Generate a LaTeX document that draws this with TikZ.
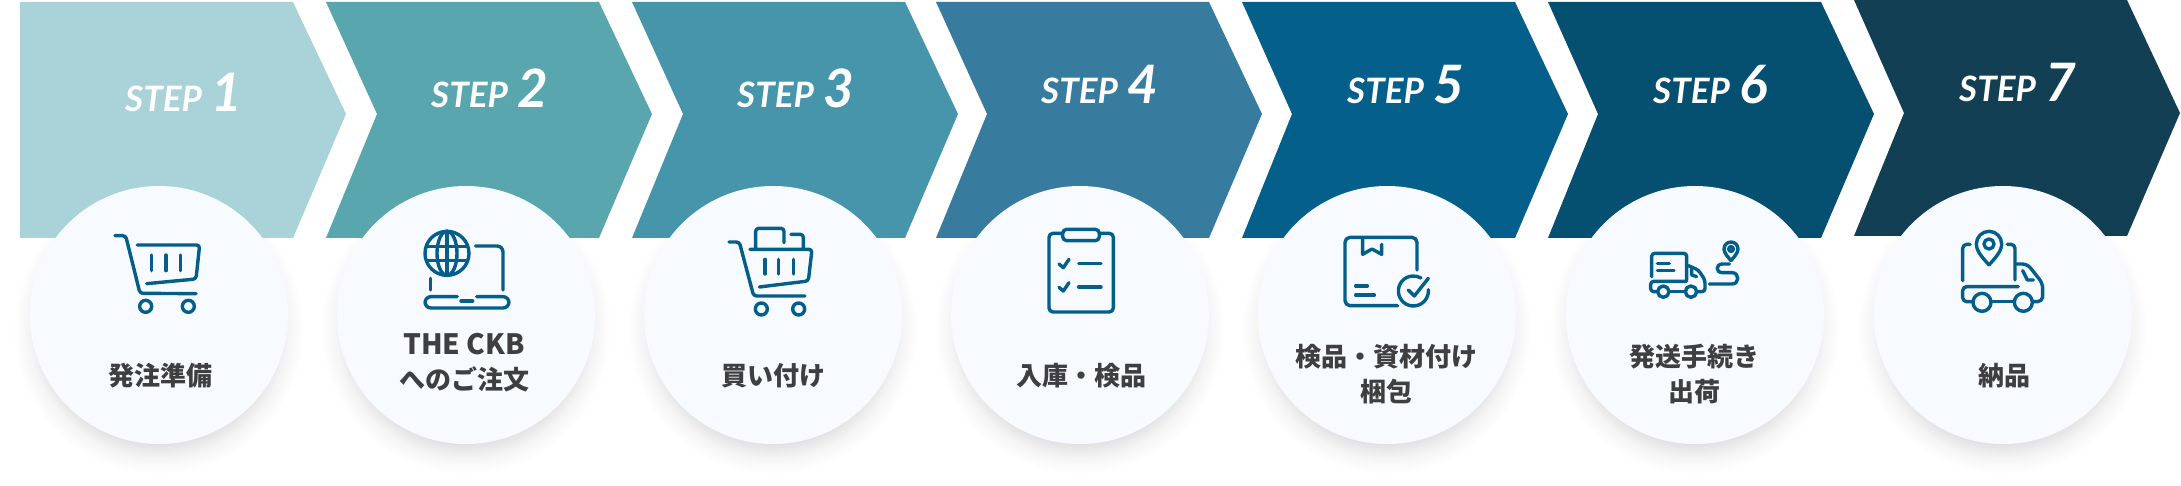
\documentclass[tikz,border=0pt]{standalone}
\usepackage{fontspec}
\setmainfont{Lato}
\newfontfamily\cjk{Noto Sans CJK JP}
\definecolor{iconblue}{HTML}{035F8A}
\definecolor{labelgray}{HTML}{3F3F3F}
\definecolor{circfill}{HTML}{F7FBFF}
\definecolor{cha}{HTML}{A9D3D8}
\definecolor{chb}{HTML}{59A6AE}
\definecolor{chc}{HTML}{4795AA}
\definecolor{chd}{HTML}{377B9E}
\definecolor{che}{HTML}{045F8A}
\definecolor{chf}{HTML}{054F71}
\definecolor{chg}{HTML}{123F54}
\tikzset{
  stepbadge/.style={anchor=base west,inner sep=0pt,text=white,font=\bfseries\itshape},
  disc/.style={circle,fill=circfill,minimum size=258pt,inner sep=0pt},
  lab/.style={inner sep=0pt,text=labelgray,align=center,font=\cjk\bfseries\fontsize{26pt}{35pt}\selectfont},
  icon/.style={draw=iconblue,line width=3.4pt,line cap=round,line join=round},
  iconscope/.style={x=0.3333pt,y=-0.3333pt,icon},
}
\newcommand{\stepword}[1]{{\fontsize{35pt}{35pt}\selectfont STEP}\hspace{10pt}{\fontsize{53pt}{53pt}\selectfont #1}}
\begin{document}
\begin{tikzpicture}[x=1pt,y=-1pt]
\useasboundingbox (0,0) rectangle (2181,486);
% shadows
\foreach \cx in {159,466,773,1080,1387,1695,2003}{
  \foreach \rr in {104,105.5,...,130}{
    \fill[black,opacity=0.007] (\cx,329) circle [radius=\rr];
  }
  \foreach \rr in {131.5,133,...,146}{
    \fill[black,opacity=0.003] (\cx,329) circle [radius=\rr];
  }
}
% chevrons
\fill[cha] (20,2)--(293,2)--(346,114)--(293,238)--(20,238)--cycle;
\fill[chb] (326,2)--(599,2)--(652,114)--(599,238)--(326,238)--(377,114)--cycle;
\fill[chc] (632,2)--(905,2)--(958,114)--(905,238)--(632,238)--(683,114)--cycle;
\fill[chd] (936,2)--(1209,2)--(1262,114)--(1209,238)--(936,238)--(987,114)--cycle;
\fill[che] (1242,2)--(1515,2)--(1568,114)--(1515,238)--(1242,238)--(1292,114)--cycle;
\fill[chf] (1548,2)--(1821,2)--(1874,114)--(1821,238)--(1548,238)--(1598,114)--cycle;
\fill[chg] (1854,0)--(2127,0)--(2180,113)--(2127,236)--(1854,236)--(1904,113)--cycle;
% discs
\node[disc] (c1) at (159,315) {};
\node[disc] (c2) at (466,315) {};
\node[disc] (c3) at (773,315) {};
\node[disc] (c4) at (1080,315) {};
\node[disc] (c5) at (1387,315) {};
\node[disc] (c6) at (1695,315) {};
\node[disc] (c7) at (2003,315) {};
% step badges
\node[stepbadge] (s1) at (125,112) {\stepword{1}};
\node[stepbadge] (s2) at (431,108) {\stepword{2}};
\node[stepbadge] (s3) at (737,108) {\stepword{3}};
\node[stepbadge] (s4) at (1041,104) {\stepword{4}};
\node[stepbadge] (s5) at (1347,104) {\stepword{5}};
\node[stepbadge] (s6) at (1653,104) {\stepword{6}};
\node[stepbadge] (s7) at (1959,102) {\stepword{7}};
% labels
\node[lab] (l2) at (464,363) {{\fontsize{28pt}{35pt}\selectfont THE CKB\hspace{10pt}}\\へのご注文};
\node[lab] (l1) at (160,376) {発注準備};
\node[lab] (l3) at (773,376) {買い付け};
\node[lab] (l4) at (1081,376) {入庫・検品};
\node[lab] (l5) at (1386,374) {検品・資材付け\\梱包};
\node[lab] (l6) at (1694,374) {発送手続き\\出荷};
\node[lab] (l7) at (2004,376) {納品};
% icon 1
\begin{scope}[shift={(100,220)},iconscope]
  \draw[rounded corners=3pt] (45,47)--(77,47)--(120,220)--(288,221);
  \draw[rounded corners=3pt] (112,75)--(299,75)--(288,177)--(140,191);
  \draw (154,105)--(154,152) (198,105)--(198,152) (242,105)--(242,152);
  \draw (137,259) circle [radius=18] (265,259) circle [radius=18];
\end{scope}
% icon 2
\begin{scope}[shift={(410,220)},iconscope]
  \draw (111,100) circle [radius=66];
  \draw (111,100) ellipse [x radius=30,y radius=66];
  \draw (111,34)--(111,166) (50,80)--(172,80) (50,122)--(172,122);
  \draw[rounded corners=6pt] (197,78)--(279,78)--(279,210);
  \draw (62,175)--(62,210);
  \draw[rounded corners=6pt] (142,230)--(45,230)--(45,264)--(297,264)--(297,230)--(200,230);
  \draw (153,243)--(188,243);
\end{scope}
% icon 3
\begin{scope}[shift={(715,220)},iconscope]
  \draw[rounded corners=3pt] (42,66)--(73,66)--(116,228)--(270,228);
  \draw[rounded corners=3pt] (105,88)--(291,88)--(280,183)--(133,201);
  \draw (150,118)--(150,162) (190,118)--(190,162) (235,118)--(235,162);
  \draw (139,267) circle [radius=18] (251,267) circle [radius=18];
  \draw[rounded corners=3pt] (122,85)--(122,25)--(207,25)--(207,68);
  \draw[rounded corners=3pt] (228,43)--(265,43)--(265,85);
\end{scope}
% icon 4
\begin{scope}[shift={(1020,220)},iconscope]
  \draw[rounded corners=4pt] (128,40)--(87,40)--(87,276)--(280,276)--(280,40)--(238,40);
  \draw[rounded corners=4pt] (128,28) rectangle (238,62);
  \draw (117,132)--(130,143)--(147,118) (117,202)--(130,213)--(147,188);
  \draw (176,130)--(243,130) (176,201)--(243,201);
\end{scope}
% icon 5
\begin{scope}[shift={(1325,225)},iconscope]
  \draw[rounded corners=5pt] (276,135)--(276,37)--(60,37)--(60,242)--(218,242);
  \draw (113,40)--(113,88)--(141,72)--(170,88)--(170,58);
  \draw (92,183)--(127,183) (92,210)--(148,210);
  \draw (310,194) arc [start angle=-5,end angle=300,radius=45];
  \draw (250,195)--(268,213)--(310,160);
\end{scope}
% icon 6
\begin{scope}[shift={(1630,225)},iconscope]
  \draw[rounded corners=3pt] (65,155)--(65,85)--(170,85)--(170,165);
  \draw[rounded corners=3pt] (170,169)--(62,169)--(62,200)--(82,200);
  \draw (118,200)--(165,200);
  \draw[rounded corners=3pt] (200,200)--(225,200)--(225,165)--(205,135)--(175,122);
  \draw (185,130)--(185,150)--(200,155);
  \draw (100,200) circle [radius=17] (183,200) circle [radius=17];
  \draw (82,115)--(118,115) (82,137)--(132,137);
  \draw (238,177)--(306,177) .. controls (329,177) and (329,143) .. (306,143)--(278,143) .. controls (256,143) and (256,117) .. (278,117)--(298,117);
  \draw (303,107) .. controls (294,96) and (282,84) .. (282,72) arc [start angle=180,end angle=360,radius=21] .. controls (324,84) and (312,96) .. (303,107);
  \draw (303,72) circle [radius=7];
\end{scope}
% icon 7
\begin{scope}[shift={(1940,220)},iconscope]
  \draw (147,135) .. controls (130,115) and (109,95) .. (109,72) arc [start angle=180,end angle=360,radius=38] .. controls (185,95) and (164,115) .. (147,135);
  \draw (147,72) circle [radius=15];
  \draw[rounded corners=4pt] (90,73)--(68,73)--(68,182);
  \draw[rounded corners=4pt] (202,73)--(225,73)--(225,180);
  \draw[rounded corners=5pt] (228,132)--(262,132)--(308,190)--(308,245)--(280,245);
  \draw[rounded corners=4pt] (235,200)--(68,200)--(68,245)--(95,245);
  \draw (155,245)--(220,245);
  \draw (248,152)--(262,180)--(280,180);
  \draw (126,247) circle [radius=27] (250,247) circle [radius=27];
\end{scope}
\end{tikzpicture}
\end{document}
